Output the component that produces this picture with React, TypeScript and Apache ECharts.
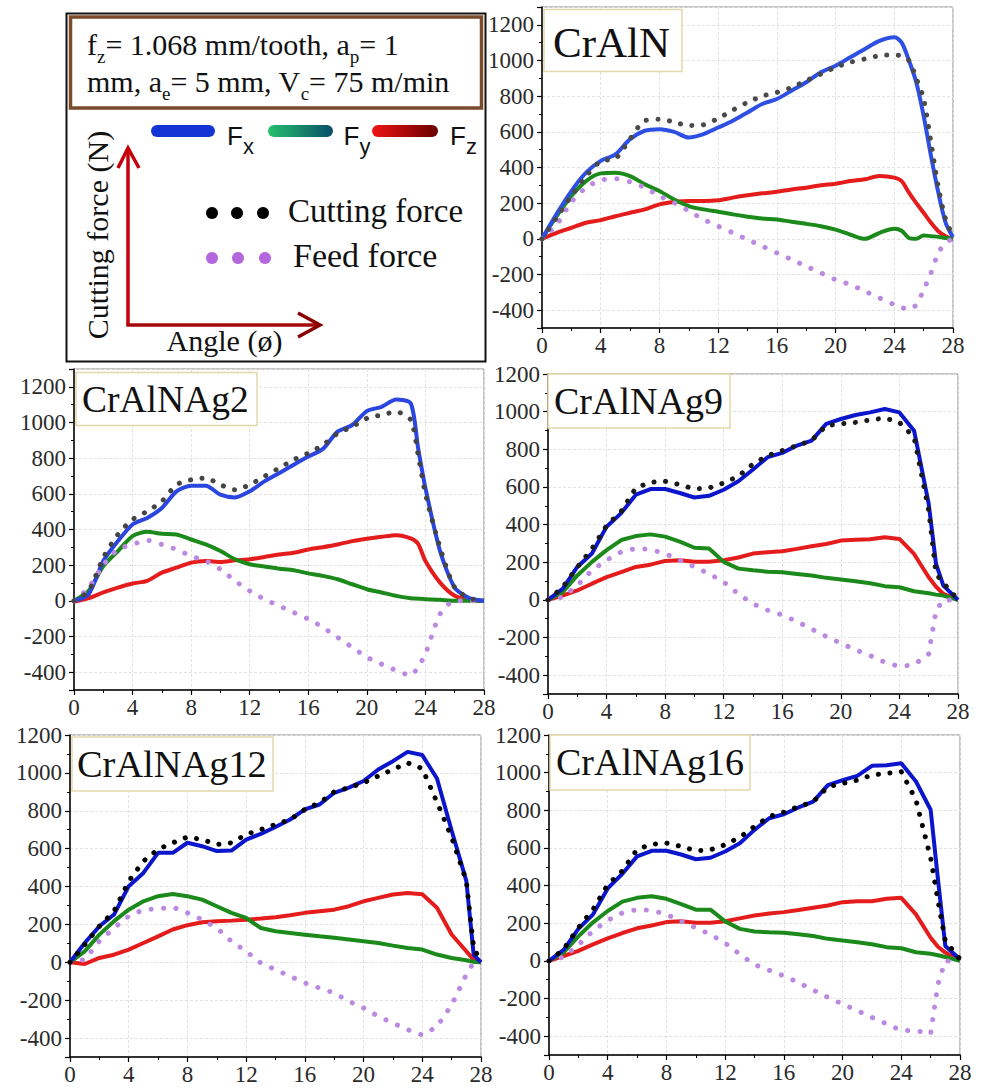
import { useEffect, useRef } from "react";
import * as echarts from "echarts";

const SERIF = "Liberation Serif";
const SANS = "Liberation Sans";

// ---------- tick labels ----------
const X_TICK_STEP = 4;
const X_MIN = 0;
const X_MAX = 28;
const Y_MIN = -500;
const Y_LABEL_MIN = -400;
const Y_LABEL_MAX = 1200;

// ---------- CrAlN ----------
const CRALN_X = [0,1,2,3,4,5,6,7,8,9,10,11,12,13,14,15,16,17,18,19,20,21,22,23,24,24.5,25,25.5,26,26.5,27,27.5,28];
const CRALN_FX = [0,140,268,371,437,474,559,606,615,600,568,587,624,662,709,756,784,831,878,934,971,1018,1065,1110,1130,1100,1000,877,690,465,259,90,10];
const CRALN_CUT = [0,120,240,350,435,450,560,662,671,655,635,640,675,722,765,800,821,849,887,924,962,990,1009,1027,1031,1025,999,900,784,540,290,110,15];
const CRALN_FY = [0,127,240,324,367,371,352,306,268,221,184,165,152,137,124,114,109,96,84,71,52,24,0,34,56,45,5,0,19,15,11,5,0];
const CRALN_FZ = [0,34,62,90,105,127,146,165,193,206,212,212,216,231,244,255,264,277,287,300,309,324,334,352,343,324,259,200,146,90,43,15,0];
const CRALN_FEED = [0,80,206,287,328,337,319,287,240,202,156,109,71,34,-4,-41,-79,-116,-154,-191,-229,-257,-294,-332,-369,-385,-397,-369,-285,-191,-79,-22,0];

// ---------- CrAlNAg2 ----------
const AG2_X = [0,1,2,3,4,5,6,7,8,9,10,11,12,13,14,15,16,17,18,19,20,21,22,23,23.5,24,25,26,27,28];
const AG2_FX = [0,37,223,335,428,465,521,614,645,645,595,580,614,670,716,763,809,852,949,986,1064,1088,1129,1107,856,632,279,74,15,0];
const AG2_CUT = [0,56,242,372,456,502,558,651,679,688,651,623,651,698,744,791,828,874,939,977,1023,1042,1060,1014,819,600,298,74,15,0];
const AG2_FY = [0,56,195,279,363,387,376,372,344,316,279,233,205,192,180,171,154,140,121,93,65,47,28,15,12,9,6,0,0,0];
const AG2_FZ = [-5,15,47,74,97,112,158,186,214,223,218,227,233,246,260,270,288,301,316,335,348,359,368,350,320,223,102,28,4,0];
const AG2_FEED = [0,74,200,288,316,339,316,288,251,223,177,112,56,9,-28,-65,-102,-149,-205,-260,-316,-355,-390,-418,-370,-298,-74,0,0,0];

// ---------- CrAlNAg9 ----------
const AG9_X = [0,1,2,3,4,5,6,7,8,9,10,11,12,13,14,15,16,17,18,19,20,21,22,23,24,25,26,26.5,27,28];
const AG9_FX = [0,59,175,246,389,461,559,589,589,568,544,553,585,630,693,758,781,820,846,935,961,982,996,1014,996,899,510,191,76,0];
const AG9_CUT = [0,67,173,271,395,470,595,625,630,612,589,595,621,657,722,766,793,820,846,926,935,943,956,966,943,864,474,138,90,0];
const AG9_FY = [0,41,130,202,264,318,339,348,336,309,277,273,202,166,157,150,147,138,129,117,108,99,88,73,67,46,35,28,23,0];
const AG9_FZ = [0,23,50,86,121,148,175,187,207,211,202,202,211,225,246,253,258,271,285,297,315,320,322,333,324,244,120,70,32,0];
const AG9_FEED = [0,14,77,157,211,255,273,268,246,211,175,139,95,32,-21,-55,-80,-115,-155,-195,-230,-265,-296,-331,-354,-345,-287,-57,0,0];

// ---------- CrAlNAg12 ----------
const AG12_X = [0,1,2,3,4,5,6,7,8,9,10,11,12,13,14,15,16,17,18,19,20,21,22,23,24,25,26,27,27.5,28];
const AG12_FX = [0,102,190,252,402,472,578,578,631,613,587,590,648,678,714,754,807,833,895,922,957,1018,1062,1111,1094,970,696,430,41,0];
const AG12_CUT = [0,93,190,270,428,534,596,631,661,648,622,631,675,701,728,754,807,842,900,922,948,983,1018,1053,1023,846,660,430,76,0];
const AG12_FY = [0,58,146,217,278,322,349,361,349,331,296,261,234,181,164,155,146,137,129,120,111,102,88,75,67,41,23,11,2,0];
const AG12_FZ = [0,-9,23,40,67,102,137,173,196,211,217,220,225,231,238,248,261,270,278,296,322,340,358,366,359,288,147,58,14,0];
const AG12_FEED = [0,14,111,181,243,278,282,291,261,225,181,111,58,-4,-39,-74,-109,-136,-162,-206,-241,-285,-321,-356,-384,-340,-225,-65,0,0];

// ---------- CrAlNAg16 ----------
const AG16_X = [0,1,2,3,4,5,6,7,8,9,10,11,12,13,14,15,16,17,18,19,20,21,22,23,24,25,26,26.5,27,28];
const AG16_FX = [0,59,170,247,385,463,555,585,585,565,540,548,581,625,696,758,779,815,846,934,960,983,1036,1039,1050,953,803,432,79,9];
const AG16_CUT = [0,62,176,273,405,478,592,620,626,608,585,590,617,657,714,767,790,819,846,925,943,960,987,996,1005,855,547,320,106,9];
const AG16_FY = [0,45,130,205,265,315,335,343,330,302,272,272,210,170,156,152,150,141,132,117,108,99,88,73,67,46,38,30,21,0];
const AG16_FZ = [0,26,53,88,120,148,173,188,206,210,203,203,211,226,241,252,259,270,282,294,312,317,317,330,335,247,123,75,44,0];
const AG16_FEED = [0,20,85,160,215,255,273,268,247,211,176,140,95,35,-20,-50,-80,-115,-155,-194,-229,-264,-300,-335,-370,-370,-388,-123,0,0];

const PANEL_NAMES = ["CrAlN", "CrAlNAg2", "CrAlNAg9", "CrAlNAg12", "CrAlNAg16"];
const PANEL_YMAX = [1300, 1300, 1200, 1200, 1200];
const PANEL_DATA = [
  { x: CRALN_X, fx: CRALN_FX, fy: CRALN_FY, fz: CRALN_FZ, cut: CRALN_CUT, feed: CRALN_FEED },
  { x: AG2_X, fx: AG2_FX, fy: AG2_FY, fz: AG2_FZ, cut: AG2_CUT, feed: AG2_FEED },
  { x: AG9_X, fx: AG9_FX, fy: AG9_FY, fz: AG9_FZ, cut: AG9_CUT, feed: AG9_FEED },
  { x: AG12_X, fx: AG12_FX, fy: AG12_FY, fz: AG12_FZ, cut: AG12_CUT, feed: AG12_FEED },
  { x: AG16_X, fx: AG16_FX, fy: AG16_FY, fz: AG16_FZ, cut: AG16_CUT, feed: AG16_FEED },
];

// ---------- layout / style ----------
const LAYOUT = [
  { left: 542, top: 7, width: 411, height: 321, box: [544, 9.5, 138, 62], text: [553, 42], font: 43, fxColor: "#2d4fe3", cutColor: "#4a4a4a", smooth: 0.3 },
  { left: 74, top: 369, width: 410, height: 321, box: [76, 372.5, 181, 53], text: [82, 399], font: 37.5, fxColor: "#2a45e0", cutColor: "#444444", smooth: 0.25 },
  { left: 548, top: 374, width: 410, height: 320, box: [548, 374, 182, 54], text: [554, 400.5], font: 38, fxColor: "#0b16cc", cutColor: "#1a1a1a", smooth: 0 },
  { left: 70, top: 735, width: 411, height: 322, box: [72, 737, 201, 54], text: [77, 763.5], font: 38.4, fxColor: "#0b16cc", cutColor: "#000000", smooth: 0 },
  { left: 549, top: 735, width: 411, height: 320, box: [550, 735, 200, 55], text: [556, 762], font: 38, fxColor: "#0b16cc", cutColor: "#000000", smooth: 0 },
];
const FY_COLOR = "#1b8a1b";
const FZ_COLOR = "#e41c1c";
const FEED_COLOR = "#bb88e2";

function measure(text: string, font: string): number {
  const c = document.createElement("canvas").getContext("2d");
  if (!c) return text.length * 12;
  c.font = font;
  return c.measureText(text).width;
}

function textRun(segs: [string, boolean][], x0: number, baseline: number, main: number, sub: number, family: string, drop: number) {
  const out: any[] = [];
  let x = x0;
  for (const [t, isSub] of segs) {
    const size = isSub ? sub : main;
    const font = `${size}px ${family}`;
    const base = isSub ? baseline + drop : baseline;
    out.push({
      type: "text",
      x,
      y: base - 0.34 * size,
      z: 100,
      style: { text: t, font, fill: "#111", align: "left", verticalAlign: "middle" },
    });
    x += measure(t, font);
  }
  return out;
}

function buildGraphics() {
  const els: any[] = [];
  // legend frame
  els.push({ type: "rect", z: 90, shape: { x: 66.5, y: 13.5, width: 419, height: 348 }, style: { fill: "#fff", stroke: "#111", lineWidth: 2 } });
  els.push({ type: "rect", z: 91, shape: { x: 70.5, y: 17, width: 411, height: 91 }, style: { fill: "#fff", stroke: "#7a4a2b", lineWidth: 3.5 } });
  els.push(...textRun([["f", false], ["z", true], ["= 1.068 mm/tooth, a", false], ["p", true], ["= 1", false]], 87, 55, 30, 19, SERIF, 8));
  els.push(...textRun([["mm, a", false], ["e", true], ["= 5 mm, V", false], ["c", true], ["= 75 m/min", false]], 87, 92, 30, 19, SERIF, 8));

  // force component bars
  const bars = [
    { x: 151, w: 64, fill: "#1434d6", label: "x", fx: 227 },
    { x: 268, w: 65, fill: new echarts.graphic.LinearGradient(0, 0, 1, 0, [{ offset: 0, color: "#25c06c" }, { offset: 1, color: "#0b4d6a" }]), label: "y", fx: 343.5 },
    { x: 372, w: 66, fill: new echarts.graphic.LinearGradient(0, 0, 1, 0, [{ offset: 0, color: "#f01414" }, { offset: 1, color: "#680000" }]), label: "z", fx: 450 },
  ];
  for (const b of bars) {
    els.push({ type: "rect", z: 95, shape: { x: b.x, y: 125, width: b.w, height: 12, r: 6 }, style: { fill: b.fill } });
    els.push(...textRun([["F", false], [b.label, true]], b.fx, 145, 26, 22, SANS, 9));
  }

  // axis arrows
  els.push({ type: "polyline", z: 95, shape: { points: [[128, 326], [128, 150]] }, style: { stroke: "#c4000a", lineWidth: 3.5, fill: null } });
  els.push({ type: "polyline", z: 95, shape: { points: [[118, 168], [128, 148], [139, 168]] }, style: { stroke: "#c4000a", lineWidth: 3.5, fill: null, lineJoin: "miter" } });
  els.push({ type: "polyline", z: 95, shape: { points: [[126.5, 325], [318, 325]] }, style: { stroke: "#a50a0a", lineWidth: 3.5, fill: null } });
  els.push({ type: "polyline", z: 95, shape: { points: [[298, 313], [320, 325], [298, 337]] }, style: { stroke: "#8a0000", lineWidth: 3.5, fill: null, lineJoin: "miter" } });
  els.push({ type: "text", z: 96, x: 97, y: 235, rotation: Math.PI / 2, style: { text: "Cutting force (N)", font: `30px ${SERIF}`, fill: "#111", align: "center", verticalAlign: "middle" } });
  els.push({ type: "text", z: 96, x: 224.5, y: 340, style: { text: "Angle (ø)", font: `30px ${SERIF}`, fill: "#111", align: "center", verticalAlign: "middle" } });

  // dotted legend
  for (const cx of [212, 237, 263]) {
    els.push({ type: "circle", z: 96, shape: { cx, cy: 213, r: 6 }, style: { fill: "#000" } });
  }
  for (const cx of [212, 238, 265]) {
    els.push({ type: "circle", z: 96, shape: { cx, cy: 258, r: 6 }, style: { fill: "#b466dc" } });
  }
  els.push({ type: "text", z: 96, x: 288, y: 211, style: { text: "Cutting force", font: `33px ${SERIF}`, fill: "#111", align: "left", verticalAlign: "middle" } });
  els.push({ type: "text", z: 96, x: 293, y: 255.5, style: { text: "Feed force", font: `34px ${SERIF}`, fill: "#111", align: "left", verticalAlign: "middle" } });

  // panel titles
  PANEL_NAMES.forEach((name, i) => {
    const L = LAYOUT[i];
    els.push({ type: "rect", z: 100, shape: { x: L.box[0], y: L.box[1], width: L.box[2], height: L.box[3] }, style: { fill: "#fff", stroke: "#e3d7ab", lineWidth: 1.5 } });
    els.push({ type: "text", z: 101, x: L.text[0], y: L.text[1], style: { text: name, font: `${L.font}px ${SERIF}`, fill: "#111", align: "left", verticalAlign: "middle" } });
  });
  return els;
}

function zip(xs: number[], ys: number[]) {
  return xs.map((x, i) => [x, ys[i]]);
}

function buildOption() {
  const grid = LAYOUT.map((L) => ({
    left: L.left, top: L.top, width: L.width, height: L.height,
    show: true, borderColor: "#8c8c8c", borderWidth: 1, backgroundColor: "transparent",
  }));
  const labelStyle = { fontSize: 23, fontFamily: SERIF, fontWeight: "normal", color: "#2a2a2a" };
  const xAxis = LAYOUT.map((_, i) => ({
    gridIndex: i, type: "value", min: X_MIN, max: X_MAX, interval: X_TICK_STEP,
    axisLine: { show: true, onZero: false, lineStyle: { color: "#000", width: 1.5 } },
    axisTick: { show: true, length: 5, lineStyle: { color: "#000", width: 1.2 } },
    minorTick: { show: true, splitNumber: 2, length: 3, lineStyle: { color: "#000", width: 1 } },
    axisLabel: { ...labelStyle, margin: 6 },
    splitLine: { show: true, lineStyle: { color: "#e2e2e2", width: 1, type: [3, 2] } },
  }));
  const yAxis = LAYOUT.map((_, i) => ({
    gridIndex: i, type: "value", min: Y_MIN, max: PANEL_YMAX[i], splitNumber: 9,
    axisLine: { show: true, onZero: false, lineStyle: { color: "#000", width: 1.5 } },
    axisTick: { show: true, length: 5, lineStyle: { color: "#000", width: 1.2 } },
    minorTick: { show: true, splitNumber: 2, length: 3, lineStyle: { color: "#000", width: 1 } },
    axisLabel: {
      ...labelStyle, margin: 8,
      formatter: (v: number) => (v < Y_LABEL_MIN || v > Y_LABEL_MAX ? "" : String(v)),
    },
    splitLine: { show: true, lineStyle: { color: "#e2e2e2", width: 1, type: [3, 2] } },
  }));
  const series: any[] = [];
  PANEL_DATA.forEach((d, i) => {
    const L = LAYOUT[i];
    const base = { type: "line", xAxisIndex: i, yAxisIndex: i, showSymbol: false, symbol: "none", silent: true, smooth: L.smooth };
    series.push({ ...base, name: "Fz", data: zip(d.x, d.fz), lineStyle: { color: FZ_COLOR, width: 4 }, z: 2 });
    series.push({ ...base, name: "Fy", data: zip(d.x, d.fy), lineStyle: { color: FY_COLOR, width: 4 }, z: 3 });
    series.push({ ...base, name: "Fx", data: zip(d.x, d.fx), lineStyle: { color: L.fxColor, width: 4 }, z: 4 });
    series.push({ ...base, name: "Feed force", data: zip(d.x, d.feed), lineStyle: { color: FEED_COLOR, width: 5, type: [0.1, 12.5], cap: "round" }, z: 5 });
    series.push({ ...base, name: "Cutting force", data: zip(d.x, d.cut), lineStyle: { color: L.cutColor, width: 5, type: [0.1, 11.5], cap: "round" }, z: 6 });
  });
  return {
    animation: false,
    backgroundColor: "#ffffff",
    textStyle: { fontFamily: SERIF },
    grid, xAxis, yAxis, series,
    graphic: { elements: buildGraphics() },
  };
}

export default function App() {
  const ref = useRef<HTMLDivElement>(null);
  useEffect(() => {
    if (!ref.current) return;
    const chart = echarts.init(ref.current, undefined, { renderer: "svg" });
    chart.setOption(buildOption() as any);
    return () => chart.dispose();
  }, []);
  return <div ref={ref} style={{ position: "fixed", left: 0, top: 0, width: 983, height: 1089 }} />;
}
